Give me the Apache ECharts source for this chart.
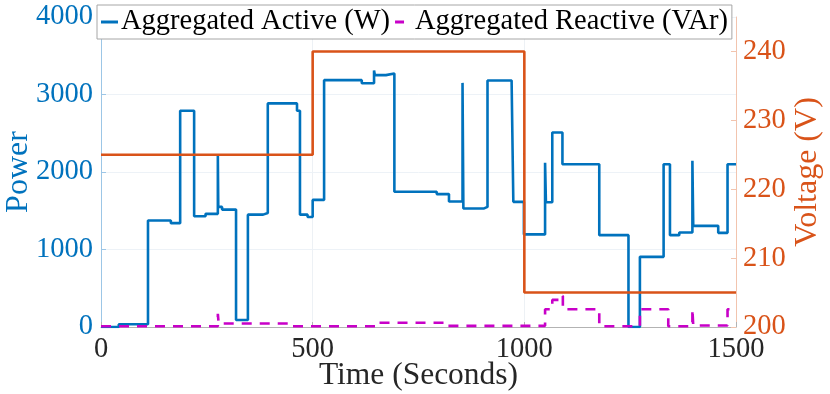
<!DOCTYPE html>
<html>
<head>
<meta charset="utf-8">
<title>Aggregated power and voltage</title>
<script src="https://cdn.jsdelivr.net/npm/echarts@6/dist/echarts.min.js"></script>
<style>
  html, body { margin: 0; padding: 0; background: #fff; }
  #chart { width: 830px; height: 394px; }
</style>
</head>
<body>
<div id="chart"></div>
<script>
// time (s), value -- each value holds until the next time (step lines)
const activeTime = [0, 42, 111, 165, 187, 220, 247, 276, 277, 286, 319, 347, 383, 394, 463, 470, 488, 500,
  527, 616, 645, 647, 673, 693, 793, 822, 854, 856, 905, 913, 970, 974, 999,
  1049, 1051, 1066, 1090, 1177, 1246, 1273, 1329, 1344, 1366, 1397, 1399, 1458, 1480, 1500]
const activePower = [0, 35, 1375, 1340, 2790, 1430, 1460, 2220, 1550, 1515, 90, 1450, 1470, 2885, 2790, 1450, 1420, 1640,
  3185, 3145, 3310, 3250, 3270, 1745, 1715, 1620, 3150, 1530, 1550, 3180, 3150, 1615, 1195,
  2120, 1610, 2510, 2100, 1185, 0, 905, 2100, 1185, 1220, 2145, 1305, 1215, 2100, 2100]

const reactiveTime = [0, 276, 278, 450, 651, 817, 1049, 1066, 1085, 1091, 1177, 1273, 1340, 1397, 1399, 1480, 1500]
const reactivePower = [10, 170, 45, 10, 55, 15, 230, 350, 400, 230, 10, 230, 10, 230, 20, 230, 230]

const voltageTime = [0, 500, 1000, 1500]
const voltage = [225, 240, 205, 205]

const timeTicks = [0, 1500, 500]      // min, max, interval
const powerTicks = [0, 4000, 1000]
const voltTicks = [200, 245, 10]

const blue = '#0072BD'
const orange = '#D95319'
const magenta = '#C800C8'
const serif = 'Liberation Serif'

function pairs(xs, ys) {
  return xs.map((x, i) => [x, ys[i]])
}
const plain = v => String(v)

const chart = echarts.init(document.getElementById('chart'))

chart.setOption({
  animation: false,
  textStyle: { fontFamily: serif },
  legend: {
    left: 97,
    top: 5,
    padding: [0, 4, 0, 4],
    itemGap: 5,
    itemWidth: 17,
    itemHeight: 3,
    borderColor: '#a6a6a6',
    borderWidth: 1,
    backgroundColor: '#fff',
    textStyle: { fontFamily: serif, fontSize: 28.5, color: '#000', lineHeight: 34, padding: [0, 0, 0, -2] },
    data: [
      { name: 'Aggregated Active (W)', icon: 'rect', itemStyle: { color: blue } },
      { name: 'Aggregated Reactive (VAr)', icon: 'path://M0,0H9V3H0ZM16.95,0H17V3H16.95Z', itemStyle: { color: magenta } }
    ]
  },
  grid: {
    left: 101,
    right: 94,
    top: 17,
    bottom: 67,
    outerBoundsMode: 'none'
  },
  xAxis: {
    type: 'value',
    min: timeTicks[0],
    max: timeTicks[1],
    interval: timeTicks[2],
    name: 'Time (Seconds)',
    nameLocation: 'middle',
    nameGap: 33,
    nameMoveOverlap: false,
    nameTextStyle: { fontFamily: serif, fontSize: 31.5, color: '#262626' },
    axisLine: { lineStyle: { color: '#b3b3b3', width: 1 } },
    axisTick: { inside: true, length: 5, lineStyle: { color: '#b3b3b3' } },
    axisLabel: { fontFamily: serif, fontSize: 28.5, color: '#262626', margin: 8, formatter: plain },
    splitLine: { show: true, lineStyle: { color: '#edf1f5', width: 1 } }
  },
  yAxis: [
    {
      type: 'value',
      position: 'left',
      min: powerTicks[0],
      max: powerTicks[1],
      interval: powerTicks[2],
      name: 'Power',
      nameLocation: 'middle',
      nameRotate: 90,
      nameGap: 66,
      nameMoveOverlap: false,
      nameTextStyle: { fontFamily: serif, fontSize: 32, color: blue },
      axisLine: { show: true, lineStyle: { color: '#9cc6e6', width: 1 } },
      axisTick: { show: true, inside: true, length: 5, lineStyle: { color: '#9cc6e6' } },
      axisLabel: { fontFamily: serif, fontSize: 28.5, color: blue, margin: 8, formatter: plain },
      splitLine: { show: true, lineStyle: { color: '#edf2f7', width: 1 } }
    },
    {
      type: 'value',
      position: 'right',
      min: voltTicks[0],
      max: voltTicks[1],
      interval: voltTicks[2],
      name: 'Voltage (V)',
      nameLocation: 'middle',
      nameRotate: 90,
      nameGap: 56,
      nameMoveOverlap: false,
      nameTextStyle: { fontFamily: serif, fontSize: 32, color: orange },
      axisLine: { show: true, lineStyle: { color: '#f2c4ae', width: 1 } },
      axisTick: { show: true, inside: true, length: 5, lineStyle: { color: '#f2c4ae' } },
      axisLabel: { fontFamily: serif, fontSize: 28.5, color: orange, margin: 7, showMaxLabel: false },
      splitLine: { show: false }
    }
  ],
  series: [
    {
      name: 'Aggregated Active (W)',
      type: 'line',
      step: 'end',
      yAxisIndex: 0,
      symbol: 'none',
      color: blue,
      lineStyle: { color: blue, width: 2.6 },
      data: pairs(activeTime, activePower)
    },
    {
      name: 'Aggregated Reactive (VAr)',
      type: 'line',
      step: 'end',
      yAxisIndex: 0,
      symbol: 'none',
      color: magenta,
      lineStyle: { color: magenta, width: 2.6, type: [10, 8] },
      data: pairs(reactiveTime, reactivePower)
    },
    {
      name: 'Voltage',
      type: 'line',
      step: 'end',
      yAxisIndex: 1,
      symbol: 'none',
      color: orange,
      lineStyle: { color: orange, width: 2.6 },
      data: pairs(voltageTime, voltage)
    }
  ]
})
</script>
</body>
</html>
